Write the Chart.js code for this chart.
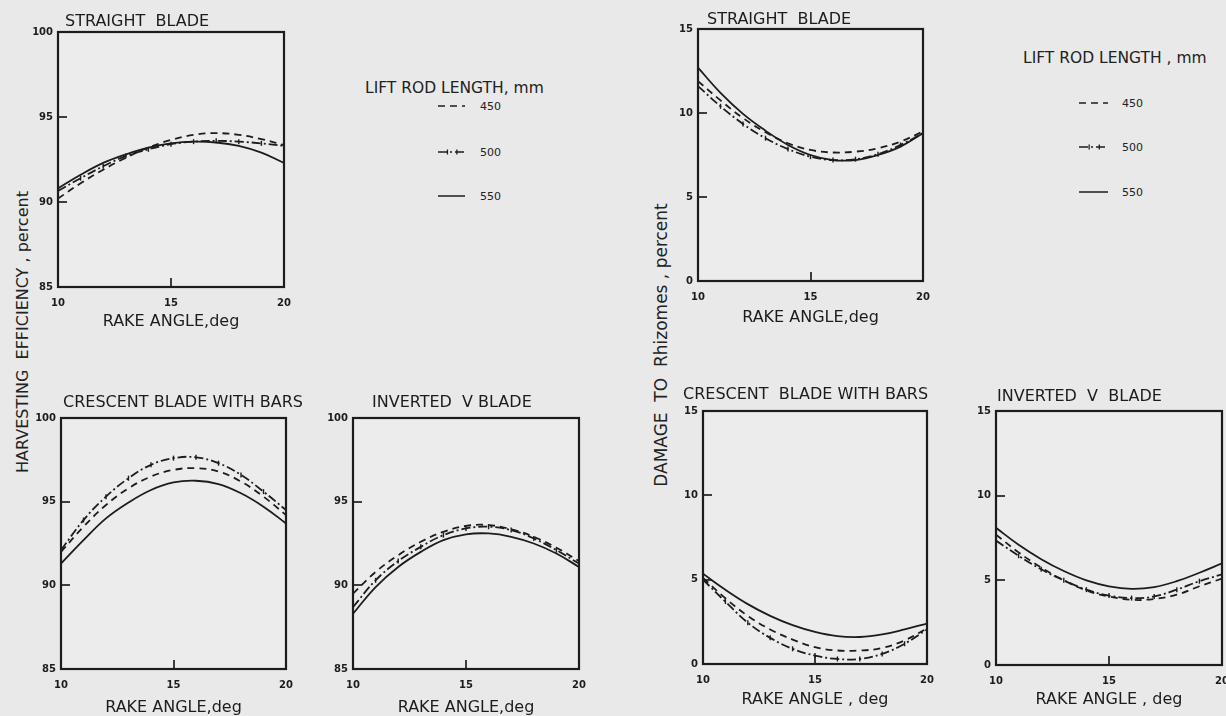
<!DOCTYPE html>
<html>
<head>
<meta charset="utf-8">
<script src="https://cdn.jsdelivr.net/npm/chart.js@4.4.1/dist/chart.umd.min.js"></script>
<style>
html, body { margin: 0; padding: 0; }
body {
    width: 1226px; height: 716px; position: relative; overflow: hidden;
    background: #e9e9e9; color: #222;
    font-family: "DejaVu Sans", sans-serif;
}
canvas { position: absolute; }
.vlabel {
    position: absolute; white-space: pre; font-size: 16px;
    transform: translate(-50%, -50%) rotate(-90deg);
}
.lgTitle { position: absolute; white-space: pre; font-size: 15.5px; transform: translateY(-50%); }
.lgText { position: absolute; font-size: 11px; transform: translateY(-50%); }
.lgLine { position: absolute; }
</style>
</head>
<body>

<div class="vlabel" style="left:22px; top:332px;">HARVESTING  EFFICIENCY , percent</div>
<div class="vlabel" style="left:661px; top:345px; font-size:17px;">DAMAGE  TO  Rhizomes , percent</div>

<script>
// rake angle, deg (x values shared by every curve)
const rakeAngle = [10, 11, 12, 13, 14, 15, 16, 17, 18, 19, 20];
const rodLengths = ['450', '500', '550'];

// harvesting efficiency, percent
const straightHE450 = [90.2, 91.1, 91.9, 92.6, 93.2, 93.65, 93.95, 94.05, 93.95, 93.7, 93.35];
const straightHE500 = [90.65, 91.4, 92.1, 92.7, 93.1, 93.4, 93.55, 93.6, 93.55, 93.45, 93.3];
const straightHE550 = [90.8, 91.6, 92.3, 92.8, 93.2, 93.45, 93.55, 93.5, 93.3, 92.9, 92.3];

const crescentHE450 = [92.0, 93.5, 94.8, 95.8, 96.5, 96.9, 97.0, 96.8, 96.2, 95.3, 94.2];
const crescentHE500 = [92.1, 93.9, 95.3, 96.4, 97.2, 97.6, 97.65, 97.3, 96.6, 95.6, 94.5];
const crescentHE550 = [91.3, 92.7, 94.0, 94.95, 95.7, 96.15, 96.25, 96.05, 95.5, 94.7, 93.7];

const invertedHE450 = [89.5, 90.8, 91.8, 92.6, 93.2, 93.55, 93.6, 93.35, 92.9, 92.25, 91.45];
const invertedHE500 = [88.7, 90.3, 91.45, 92.3, 93.0, 93.4, 93.5, 93.3, 92.8, 92.1, 91.3];
const invertedHE550 = [88.3, 89.9, 91.1, 92.0, 92.7, 93.05, 93.1, 92.9, 92.5, 91.9, 91.1];

// damage to rhizomes, percent
const straightDM450 = [11.9, 10.75, 9.7, 8.85, 8.2, 7.8, 7.65, 7.7, 7.9, 8.3, 8.9];
const straightDM500 = [11.6, 10.4, 9.35, 8.5, 7.85, 7.4, 7.2, 7.25, 7.55, 8.1, 8.8];
const straightDM550 = [12.7, 11.2, 9.95, 8.95, 8.1, 7.5, 7.2, 7.2, 7.5, 8.0, 8.8];

const crescentDM450 = [5.1, 3.9, 2.85, 2.05, 1.45, 1.0, 0.8, 0.8, 0.95, 1.4, 2.1];
const crescentDM500 = [5.0, 3.7, 2.45, 1.55, 0.9, 0.5, 0.3, 0.3, 0.6, 1.2, 2.05];
const crescentDM550 = [5.35, 4.4, 3.55, 2.85, 2.3, 1.9, 1.65, 1.6, 1.75, 2.05, 2.4];

const invertedDM450 = [7.7, 6.65, 5.75, 5.0, 4.4, 4.05, 3.85, 3.9, 4.15, 4.65, 5.1];
const invertedDM500 = [7.35, 6.45, 5.65, 5.0, 4.45, 4.1, 3.95, 4.05, 4.45, 4.95, 5.35];
const invertedDM550 = [8.1, 7.1, 6.25, 5.55, 5.0, 4.65, 4.5, 4.6, 4.95, 5.45, 6.0];

const heTicks = [85, 100];
const dmTicks = [0, 15];

const INK = '#1c1c1c';
const FONT = '"DejaVu Sans", sans-serif';

// line style per rod length: dashed, dash-dot with cross ticks, solid
const lineDash = [[7, 5], [9, 3, 2, 3], []];
const crossTicks = [false, true, false];

// where each box sits on the page
const panels = [
    { title: 'STRAIGHT  BLADE', xTitle: 'RAKE ANGLE,deg', series: [straightHE450, straightHE500, straightHE550], range: heTicks,
      L: 58, R: 284, T: 32, B: 287, dx: 7, dy: 10, gap: 35 },
    { title: 'STRAIGHT  BLADE', xTitle: 'RAKE ANGLE,deg', series: [straightDM450, straightDM500, straightDM550], range: dmTicks,
      L: 698, R: 923, T: 29, B: 281, dx: 9, dy: 9, gap: 37 },
    { title: 'CRESCENT BLADE WITH BARS', xTitle: 'RAKE ANGLE,deg', series: [crescentHE450, crescentHE500, crescentHE550], range: heTicks,
      L: 61, R: 286, T: 418, B: 669, dx: 2, dy: 15, gap: 39 },
    { title: 'INVERTED  V BLADE', xTitle: 'RAKE ANGLE,deg', series: [invertedHE450, invertedHE500, invertedHE550], range: heTicks,
      L: 353, R: 579, T: 418, B: 669, dx: 19, dy: 15, gap: 39 },
    { title: 'CRESCENT  BLADE WITH BARS', xTitle: 'RAKE ANGLE , deg', series: [crescentDM450, crescentDM500, crescentDM550], range: dmTicks,
      L: 703, R: 927, T: 411, B: 664, dx: -20, dy: 16, gap: 36 },
    { title: 'INVERTED  V  BLADE', xTitle: 'RAKE ANGLE , deg', series: [invertedDM450, invertedDM500, invertedDM550], range: dmTicks,
      L: 996, R: 1222, T: 411, B: 665, dx: 1, dy: 14, gap: 35 }
];

const PAD_TOP = 40, Y_W = 50, X_H = 60, PAD_R = 45;

// box round the plot area, and the panel heading
const framePlugin = {
    id: 'frame',
    beforeDatasetsDraw(chart) {
        const { left, top, width, height } = chart.chartArea;
        const ctx = chart.ctx;
        ctx.save();
        ctx.fillStyle = 'rgba(255,255,255,0.15)';
        ctx.fillRect(left, top, width, height);
        ctx.restore();
    },
    afterDraw(chart, args, opts) {
        const { left, top, width, height } = chart.chartArea;
        const ctx = chart.ctx;
        ctx.save();
        ctx.strokeStyle = INK;
        ctx.lineWidth = 2.2;
        ctx.strokeRect(left, top, width, height);
        ctx.fillStyle = INK;
        ctx.font = '16px ' + FONT;
        ctx.textBaseline = 'middle';
        ctx.textAlign = 'left';
        ctx.fillText(opts.text, left + opts.dx, top - opts.dy);
        ctx.restore();
    }
};

panels.forEach(p => {
    const cv = document.createElement('canvas');
    const w = Y_W + (p.R - p.L) + PAD_R;
    const h = PAD_TOP + (p.B - p.T) + X_H;
    cv.width = w;
    cv.height = h;
    cv.style.left = (p.L - Y_W) + 'px';
    cv.style.top = (p.T - PAD_TOP) + 'px';
    document.body.appendChild(cv);

    const datasets = p.series.map((vals, i) => ({
        label: rodLengths[i],
        data: vals.map((v, j) => ({ x: rakeAngle[j], y: v })),
        borderColor: INK,
        borderWidth: 1.8,
        borderDash: lineDash[i],
        tension: 0.4,
        fill: false,
        pointRadius: crossTicks[i] ? 2.5 : 0,
        pointStyle: 'line',
        rotation: 90,
        pointBorderColor: INK,
        pointBorderWidth: 1.4
    }));

    new Chart(cv.getContext('2d'), {
        type: 'line',
        data: { datasets },
        options: {
            responsive: false,
            animation: false,
            events: [],
            layout: { padding: { top: PAD_TOP, right: PAD_R, left: 0, bottom: 0 } },
            plugins: {
                legend: { display: false },
                tooltip: { enabled: false },
                frame: { text: p.title, dx: p.dx, dy: p.dy }
            },
            scales: {
                x: {
                    type: 'linear',
                    min: rakeAngle[0],
                    max: rakeAngle[rakeAngle.length - 1],
                    afterFit: s => { s.height = X_H; },
                    ticks: { stepSize: 5, padding: 19, maxRotation: 0, color: INK, font: { family: FONT, size: 10, weight: 'bold' } },
                    grid: { drawOnChartArea: false, drawTicks: true, tickLength: -9, color: INK, lineWidth: 2 },
                    border: { display: false },
                    title: { display: true, text: p.xTitle, color: INK, font: { family: FONT, size: 16 }, padding: { top: 0, bottom: 50.4 - p.gap } }
                },
                y: {
                    min: p.range[0],
                    max: p.range[1],
                    afterFit: s => { s.width = Y_W; },
                    ticks: { stepSize: 5, padding: 14, color: INK, font: { family: FONT, size: 10, weight: 'bold' } },
                    grid: { drawOnChartArea: false, drawTicks: true, tickLength: -9, color: INK, lineWidth: 2 },
                    border: { display: false }
                }
            }
        },
        plugins: [framePlugin]
    });
});

// the two "LIFT ROD LENGTH" keys
const legends = [
    { title: 'LIFT ROD LENGTH, mm', tx: 365, ty: 88, lx: 438, lw: 27, nx: 480, ys: [106, 152, 196] },
    { title: 'LIFT ROD LENGTH , mm', tx: 1023, ty: 58, lx: 1079, lw: 29, nx: 1122, ys: [103, 147, 192] }
];

legends.forEach(lg => {
    const t = document.createElement('div');
    t.className = 'lgTitle';
    t.style.left = lg.tx + 'px';
    t.style.top = lg.ty + 'px';
    t.textContent = lg.title;
    document.body.appendChild(t);

    rodLengths.forEach((len, i) => {
        const y = lg.ys[i];
        const svgNS = 'http://www.w3.org/2000/svg';
        const svg = document.createElementNS(svgNS, 'svg');
        svg.setAttribute('class', 'lgLine');
        svg.setAttribute('width', lg.lw);
        svg.setAttribute('height', 10);
        svg.style.left = lg.lx + 'px';
        svg.style.top = (y - 5) + 'px';
        const ln = document.createElementNS(svgNS, 'line');
        ln.setAttribute('x1', 0); ln.setAttribute('x2', lg.lw);
        ln.setAttribute('y1', 5); ln.setAttribute('y2', 5);
        ln.setAttribute('stroke', INK);
        ln.setAttribute('stroke-width', 1.5);
        if (lineDash[i].length) ln.setAttribute('stroke-dasharray', lineDash[i].join(' '));
        svg.appendChild(ln);
        if (crossTicks[i]) {
            [lg.lw * 0.35, lg.lw * 0.7].forEach(cx => {
                const tk = document.createElementNS(svgNS, 'line');
                tk.setAttribute('x1', cx); tk.setAttribute('x2', cx);
                tk.setAttribute('y1', 2.5); tk.setAttribute('y2', 7.5);
                tk.setAttribute('stroke', INK);
                tk.setAttribute('stroke-width', 1.3);
                svg.appendChild(tk);
            });
        }
        document.body.appendChild(svg);

        const n = document.createElement('div');
        n.className = 'lgText';
        n.style.left = lg.nx + 'px';
        n.style.top = y + 'px';
        n.textContent = len;
        document.body.appendChild(n);
    });
});
</script>
</body>
</html>
